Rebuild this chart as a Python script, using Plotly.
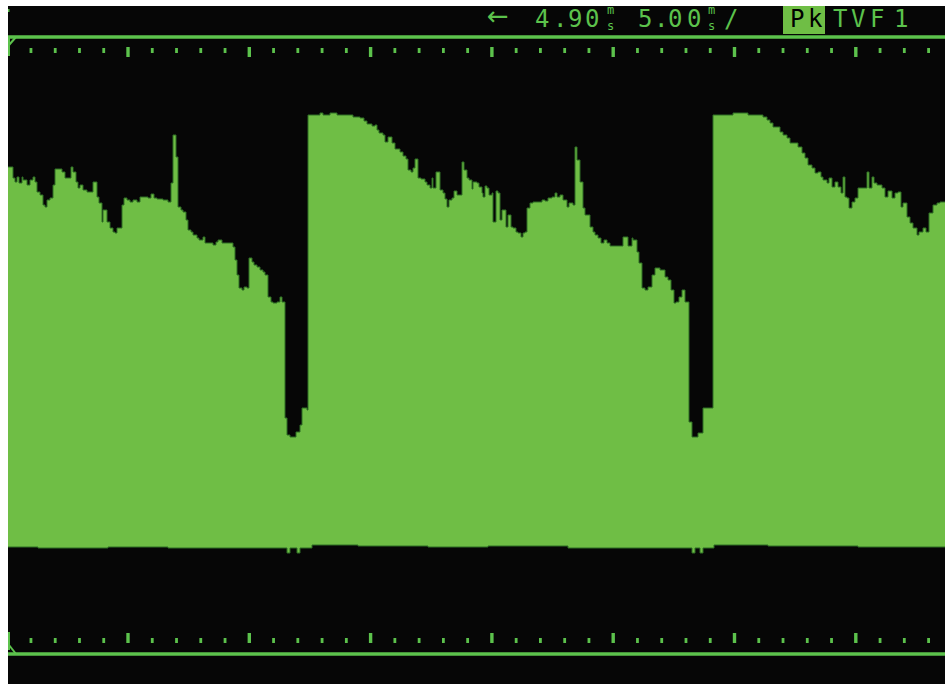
import plotly.graph_objects as go

# ---- data: peak-detect envelope read from the scope screen ----
# x = display column (sample index), y = level (ADC counts above baseline)
top_cols = [
    0, 5, 7, 9, 11, 14, 15, 19, 22, 25,
    27, 29, 32, 35, 37, 39, 42, 45, 47, 54,
    57, 63, 65, 68, 70, 72, 75, 79, 85, 89,
    91, 94, 95, 99, 102, 105, 107, 109, 114, 116,
    119, 122, 125, 129, 132, 140, 143, 146, 149, 155,
    160, 163, 165, 168, 170, 173, 175, 178, 180, 183,
    185, 189, 191, 195, 197, 205, 208, 210, 214, 225,
    227, 229, 231, 234, 236, 239, 241, 244, 246, 249,
    252, 255, 257, 260, 263, 265, 269, 272, 274, 277,
    279, 282, 288, 292, 294, 299, 300, 312, 315, 322,
    329, 345, 352, 356, 359, 364, 367, 369, 371, 375,
    377, 380, 384, 387, 392, 395, 398, 400, 403, 405,
    407, 410, 413, 417, 419, 422, 424, 425, 428, 432,
    435, 437, 439, 441, 444, 446, 449, 454, 456, 459,
    461, 464, 465, 469, 471, 474, 475, 477, 479, 481,
    484, 485, 488, 490, 492, 494, 498, 500, 503, 505,
    508, 510, 513, 515, 517, 519, 522, 525, 534, 537,
    540, 544, 547, 549, 552, 555, 559, 561, 565, 567,
    569, 572, 575, 577, 582, 585, 587, 590, 593, 596,
    599, 602, 605, 615, 620, 624, 625, 629, 631, 634,
    637, 640, 644, 647, 652, 657, 660, 663, 666, 668,
    671, 674, 677, 681, 684, 690, 695, 705, 725, 740,
    755, 759, 762, 765, 772, 775, 779, 782, 790, 794,
    797, 800, 804, 807, 810, 813, 815, 819, 821, 824,
    827, 830, 833, 835, 837, 839, 841, 844, 847, 850,
    859, 861, 864, 866, 869, 874, 877, 880, 884, 887,
    890, 893, 895, 899, 902, 905, 909, 911, 915, 918,
    921, 925, 929, 932, 937,
]
top_level = [
    381, 370, 366, 371, 365, 371, 368, 363, 368, 371,
    366, 356, 353, 343, 341, 348, 350, 363, 379, 376,
    370, 381, 376, 366, 360, 363, 358, 356, 366, 351,
    345, 326, 338, 326, 320, 316, 315, 320, 343, 350,
    348, 346, 348, 346, 351, 350, 354, 350, 349, 348,
    346, 365, 413, 391, 341, 338, 336, 328, 318, 316,
    313, 310, 308, 311, 305, 303, 306, 308, 305, 301,
    288, 273, 260, 258, 261, 260, 290, 286, 283, 281,
    278, 276, 273, 251, 246, 245, 246, 251, 246, 130,
    113, 111, 116, 123, 140, 138, 433, 435, 433, 435,
    433, 431, 430, 427, 424, 422, 423, 418, 415, 413,
    406, 411, 405, 399, 396, 392, 389, 378, 376, 380,
    389, 370, 369, 366, 363, 360, 370, 360, 376, 358,
    355, 349, 341, 348, 350, 357, 353, 386, 378, 370,
    368, 359, 366, 365, 361, 355, 351, 362, 360, 353,
    355, 326, 357, 355, 328, 338, 321, 333, 321, 320,
    316, 315, 311, 315, 316, 340, 345, 346, 348, 347,
    350, 351, 355, 351, 353, 348, 341, 345, 343, 401,
    388, 366, 340, 333, 321, 316, 313, 310, 305, 308,
    305, 302, 302, 311, 302, 310, 308, 296, 285, 260,
    258, 261, 273, 280, 278, 271, 268, 258, 245, 246,
    251, 258, 246, 126, 111, 115, 140, 433, 435, 433,
    431, 428, 425, 421, 416, 413, 410, 405, 401, 395,
    390, 383, 380, 375, 376, 371, 368, 365, 370, 361,
    366, 361, 355, 371, 351, 350, 340, 346, 350, 360,
    376, 360, 371, 365, 363, 360, 351, 357, 350, 355,
    356, 341, 345, 331, 325, 320, 313, 316, 320, 316,
    335, 343, 345, 346, 346,
]
bot_cols = [0, 30, 100, 160, 279, 282, 289, 292, 304, 350, 420, 480,
            560, 684, 687, 692, 695, 706, 760, 850, 937]
bot_level = [1, 0, 1, 0, -5, 0, -5, 0, 3, 2, 1, 2,
             0, -5, 0, -5, 0, 3, 2, 1, 1]

# graticule / screen constants
COLS_PER_MINOR = 24.26
TICK_OFFSET = -1.3
N_TICKS = 39
TOP_RULE, BOT_RULE = 511, -106

GREEN = "#5cc24c"
FILL = "#6fbe45"
EDGE = "#2f6e24"

fig = go.Figure()
fig.add_trace(go.Scatter(x=bot_cols, y=bot_level, mode="lines",
                         line=dict(color=EDGE, width=1, shape="hv"),
                         hoverinfo="skip"))
fig.add_trace(go.Scatter(x=top_cols, y=top_level, mode="lines",
                         line=dict(color=EDGE, width=1, shape="hv"),
                         fill="tonexty", fillcolor=FILL, hoverinfo="skip"))

shapes = []
for yv in (TOP_RULE, BOT_RULE):
    shapes.append(dict(type="line", x0=0, x1=937, y0=yv, y1=yv,
                       line=dict(color=GREEN, width=3.5), layer="above"))
shapes += [
    dict(type="line", x0=1, x1=1, y0=512, y1=492, line=dict(color=GREEN, width=2)),
    dict(type="line", x0=1, x1=8, y0=503, y1=511, line=dict(color=GREEN, width=2)),
    dict(type="line", x0=1, x1=1, y0=-84, y1=-102, line=dict(color=GREEN, width=2)),
    dict(type="line", x0=1, x1=8, y0=-97, y1=-106, line=dict(color=GREEN, width=2)),
    dict(type="rect", x0=-1, x1=1.5, y0=536, y1=539, fillcolor=GREEN, line=dict(width=0)),
]
for k in range(1, N_TICKS):
    xc = TICK_OFFSET + k * COLS_PER_MINOR
    major = (k % 5 == 0)
    w = 1.7 if major else 1.4
    spans = [(491, 501), (-95, -85)] if major else [(495, 500), (-95, -90)]
    for (a, b) in spans:
        shapes.append(dict(type="rect", x0=xc - w, x1=xc + w, y0=a, y1=b,
                           fillcolor=GREEN, line=dict(width=0)))
shapes.append(dict(type="rect", x0=775, x1=817, y0=514, y1=542,
                   fillcolor=FILL, line=dict(width=0), layer="below"))

FONT = "DejaVu Sans Mono"
ann = []
def ch(t, x, y, size=24, color=GREEN, family=FONT):
    ann.append(dict(x=x, y=y, text=t, showarrow=False, xanchor="center",
                    yanchor="middle", font=dict(family=family, size=size, color=color)))

ch("←", 490, 532, 26, family="DejaVu Sans")
for t, x in zip("4.90", [534, 552, 567, 584]):
    ch(t, x, 529)
ch("m<br>s", 602, 530, 12)
for t, x in zip("5.00", [637, 653, 667, 686]):
    ch(t, x, 529)
ch("m<br>s", 703, 530, 12)
ch("/", 723, 529)
ch("P", 789, 529, 24, "#000000")
ch("k", 807, 529, 24, "#000000")
for t, x in zip("TVF1", [832, 850, 869, 893]):
    ch(t, x, 529)

fig.update_layout(
    width=951, height=684,
    margin=dict(l=8, r=6, t=6, b=0, pad=0),
    paper_bgcolor="white", plot_bgcolor="#060606",
    showlegend=False, hovermode=False,
    xaxis=dict(range=[0, 937], visible=False, fixedrange=True),
    yaxis=dict(range=[-136, 542], visible=False, fixedrange=True),
    shapes=shapes, annotations=ann,
)

fig.write_html("out.html", config={"displayModeBar": False, "staticPlot": True},
               post_script="document.body.style.margin='0';document.body.style.overflow='hidden';")
